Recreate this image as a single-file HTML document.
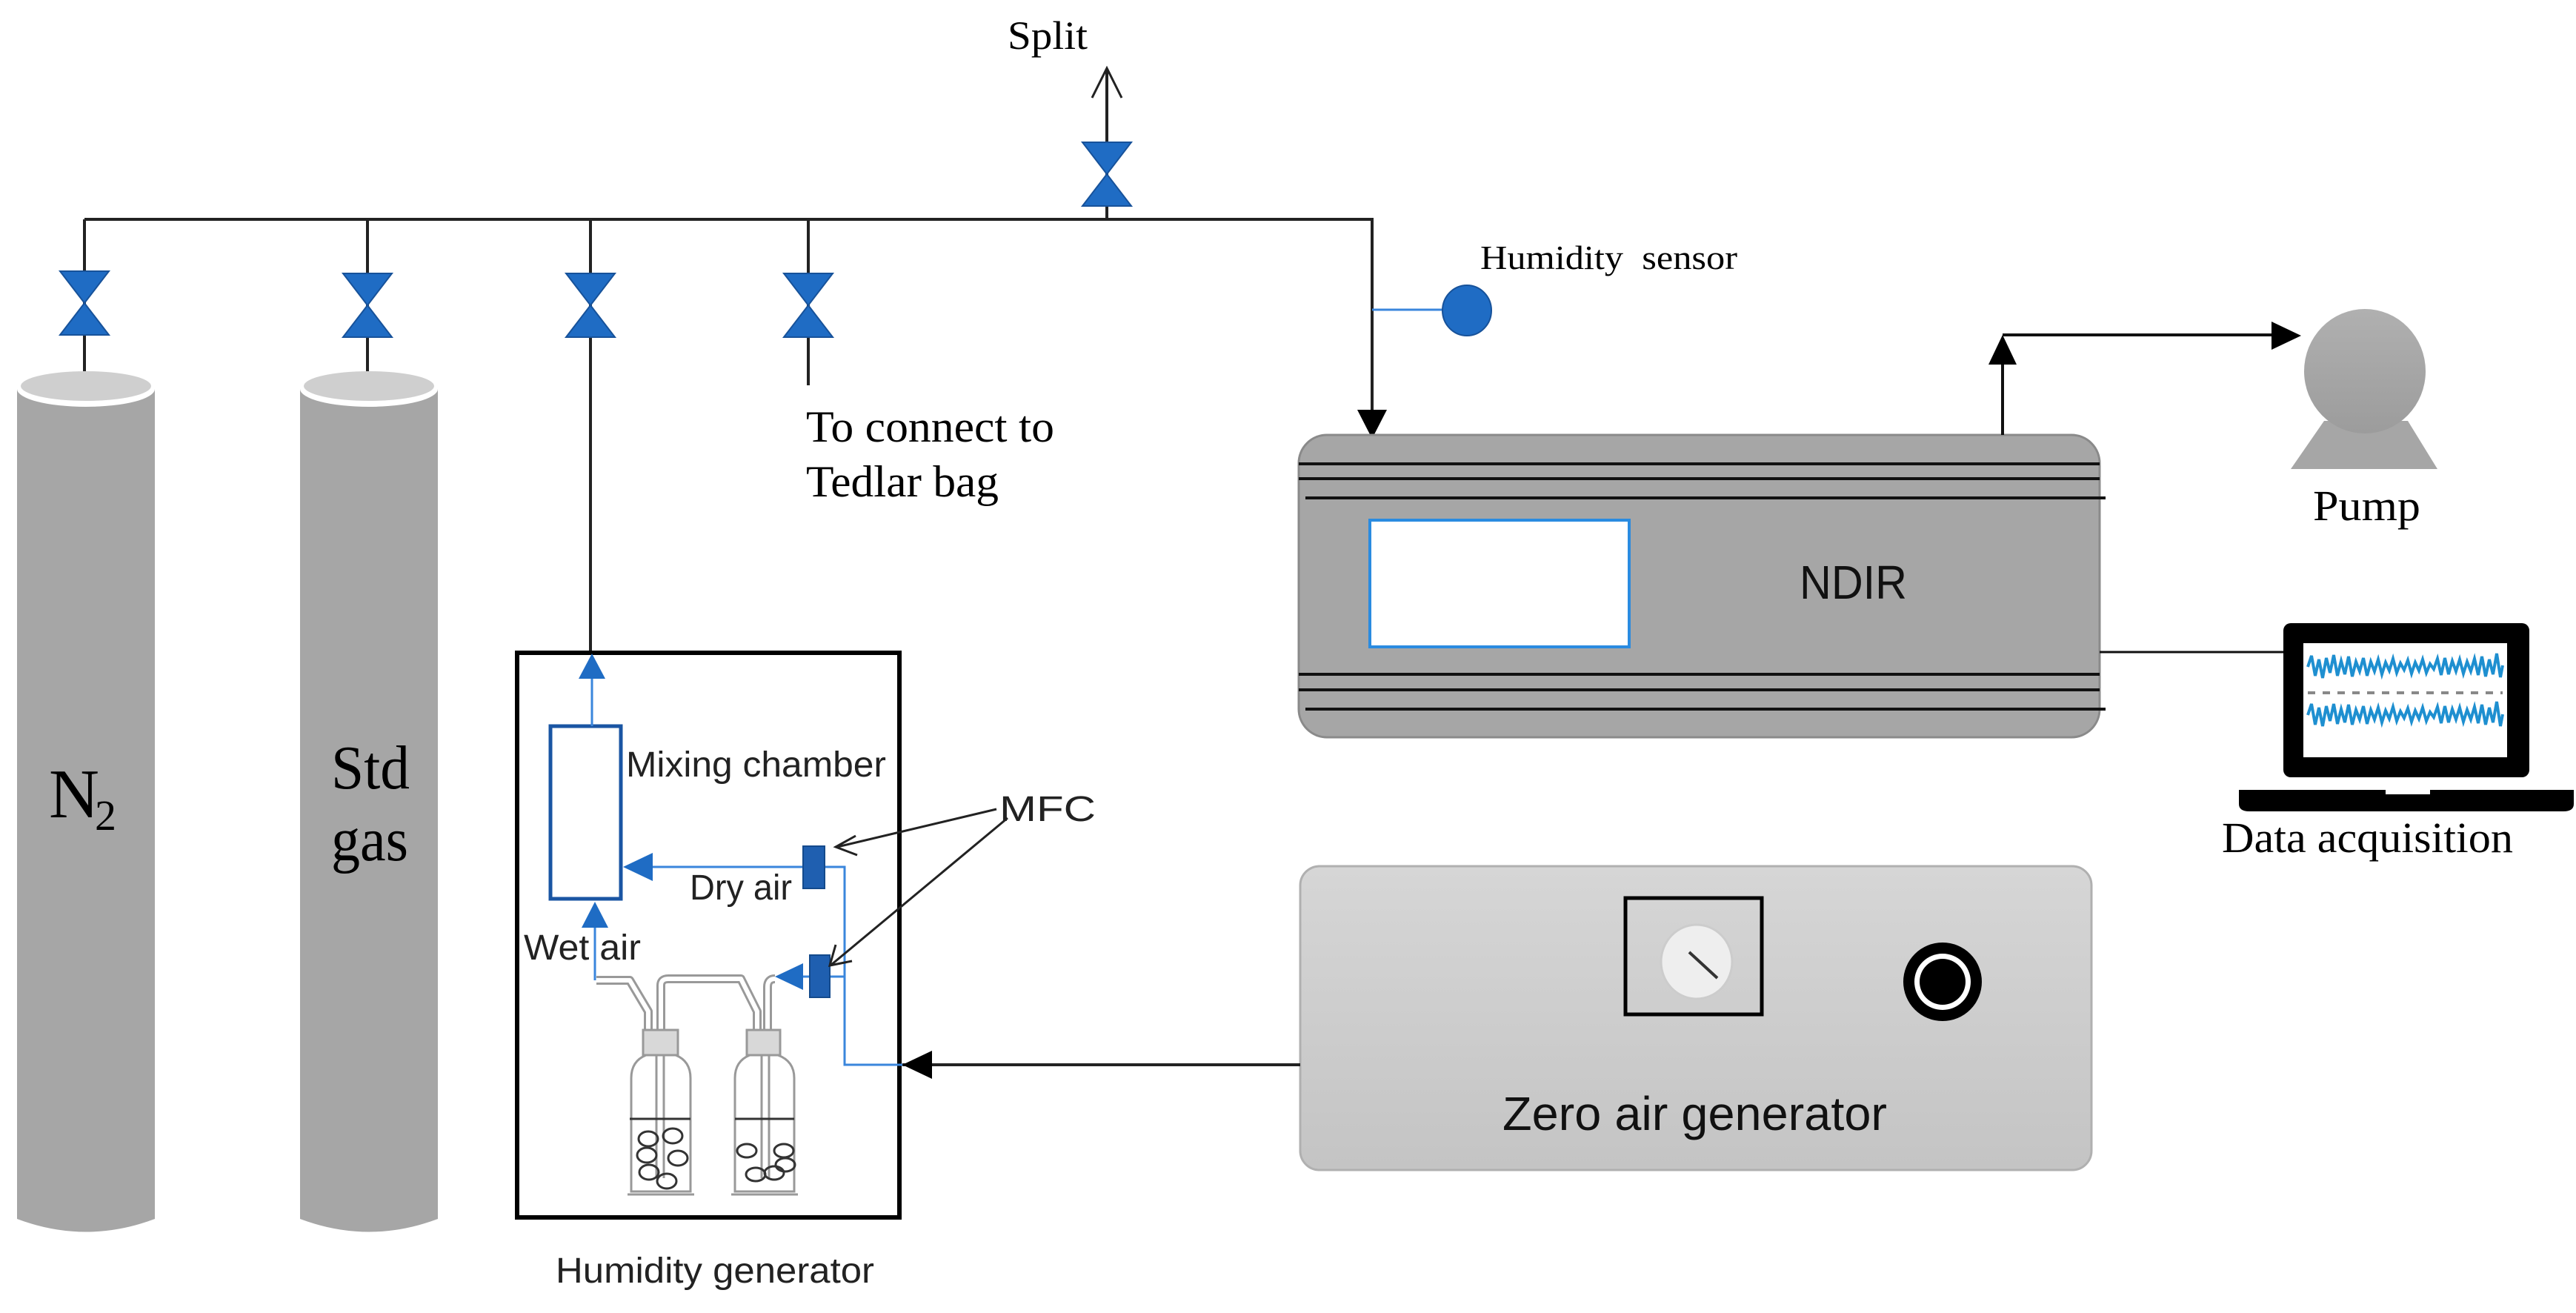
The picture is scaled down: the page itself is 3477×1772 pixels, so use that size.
<!DOCTYPE html>
<html><head><meta charset="utf-8"><style>html,body{margin:0;padding:0;background:#fff}svg{display:block}</style></head>
<body>
<svg width="3477" height="1772" viewBox="0 0 3477 1772" xmlns="http://www.w3.org/2000/svg">
<defs>
<g id="valve"><polygon points="-33,-43 33,-43 0,0" fill="#1f6cc4" stroke="#17529a" stroke-width="2"/><polygon points="-33,43 33,43 0,0" fill="#1f6cc4" stroke="#17529a" stroke-width="2"/></g>
<linearGradient id="pg" x1="0" y1="0" x2="0" y2="1"><stop offset="0" stop-color="#b0b0b0"/><stop offset="1" stop-color="#9c9c9c"/></linearGradient>
<linearGradient id="zg" x1="0" y1="0" x2="0" y2="1"><stop offset="0" stop-color="#d6d6d6"/><stop offset="1" stop-color="#c4c4c4"/></linearGradient>
</defs>

<g stroke="#222" stroke-width="4" fill="none">
<path d="M114,296 H1852 V560"/>
<line x1="114" y1="296" x2="114" y2="520"/>
<line x1="496" y1="296" x2="496" y2="520"/>
<line x1="797" y1="296" x2="797" y2="880"/>
<line x1="1091" y1="296" x2="1091" y2="520"/>
<line x1="1494" y1="296" x2="1494" y2="95"/>
<path d="M1474,132 L1494,92 L1514,132" stroke-width="3"/>
</g>
<polygon points="1832,553 1872,553 1852,592" fill="#000"/>
<use href="#valve" x="114" y="409"/>
<use href="#valve" x="496" y="412"/>
<use href="#valve" x="797" y="412"/>
<use href="#valve" x="1091" y="412"/>
<use href="#valve" x="1494" y="235"/>
<text x="1360" y="66" font-family="Liberation Serif,serif" font-size="54" textLength="108" lengthAdjust="spacingAndGlyphs">Split</text>
<text x="1088" y="596" font-family="Liberation Serif,serif" font-size="60" textLength="335" lengthAdjust="spacingAndGlyphs">To connect to</text>
<text x="1088" y="670" font-family="Liberation Serif,serif" font-size="60" textLength="260" lengthAdjust="spacingAndGlyphs">Tedlar bag</text>

<path d="M23,525 V1645 Q116,1680 209,1645 V525 Z" fill="#a6a6a6"/>
<ellipse cx="116" cy="525" rx="93" ry="24" fill="#fff"/>
<ellipse cx="116" cy="521" rx="88" ry="20" fill="#cfcfcf"/>
<path d="M405,525 V1645 Q498,1680 591,1645 V525 Z" fill="#a6a6a6"/>
<ellipse cx="498" cy="525" rx="93" ry="24" fill="#fff"/>
<ellipse cx="498" cy="521" rx="88" ry="20" fill="#cfcfcf"/>
<text x="66" y="1103" font-family="Liberation Serif,serif" font-size="94">N</text>
<text x="128" y="1120" font-family="Liberation Serif,serif" font-size="58">2</text>
<text x="447" y="1064" font-family="Liberation Serif,serif" font-size="84" textLength="106" lengthAdjust="spacingAndGlyphs">Std</text>
<text x="447" y="1161" font-family="Liberation Serif,serif" font-size="84" textLength="104" lengthAdjust="spacingAndGlyphs">gas</text>

<rect x="698" y="881" width="516" height="762" fill="none" stroke="#000" stroke-width="6"/>
<rect x="743" y="980" width="95" height="233" fill="none" stroke="#1a55a3" stroke-width="5"/>
<g stroke="#3a86dc" stroke-width="3" fill="none">
<line x1="799" y1="980" x2="799" y2="910"/>
<line x1="803" y1="1250" x2="803" y2="1323"/>
<path d="M880,1170 H1140 V1437 H1218"/>
<line x1="1084" y1="1318" x2="1140" y2="1318"/>
</g>
<polygon points="781,916 817,916 799,882" fill="#1f6cc4"/>
<polygon points="785,1252 821,1252 803,1217" fill="#1f6cc4"/>
<polygon points="881,1151 881,1189 841,1170" fill="#1f6cc4"/>
<polygon points="1084,1300 1084,1336 1046,1318" fill="#1f6cc4"/>
<rect x="1084" y="1142" width="29" height="57" fill="#1f5fb0" stroke="#144a8c" stroke-width="2"/>
<rect x="1093" y="1289" width="27" height="57" fill="#1f5fb0" stroke="#144a8c" stroke-width="2"/>
<!-- bubbler tubes -->
<g fill="none" stroke-linejoin="round">
<path id="t1" d="M805,1323 H850 L875,1365 V1395 M892,1400 V1330 Q892,1321 902,1321 H1000 L1022,1365 V1395 M1036,1400 V1332 Q1036,1321 1046,1321" stroke="#999" stroke-width="12"/>
<path d="M805,1323 H850 L875,1365 V1395 M892,1400 V1330 Q892,1321 902,1321 H1000 L1022,1365 V1395 M1036,1400 V1332 Q1036,1321 1046,1321" stroke="#fff" stroke-width="6"/>
</g>
<g stroke="#999" stroke-width="3" fill="none">
<rect x="868" y="1390" width="47" height="34" fill="#d8d8d8"/>
<rect x="1008" y="1390" width="45" height="34" fill="#d8d8d8"/>
<path d="M872,1424 Q852,1432 852,1455 V1608 H932 V1455 Q932,1432 912,1424"/>
<path d="M1012,1424 Q992,1432 992,1455 V1608 H1072 V1455 Q1072,1432 1050,1424"/>
<line x1="847" y1="1612" x2="937" y2="1612"/>
<line x1="987" y1="1612" x2="1077" y2="1612"/>
<line x1="886" y1="1424" x2="886" y2="1590"/><line x1="896" y1="1424" x2="896" y2="1590"/>
<line x1="1028" y1="1424" x2="1028" y2="1590"/><line x1="1038" y1="1424" x2="1038" y2="1590"/>
</g>
<g stroke="#333" stroke-width="3" fill="none">
<line x1="850" y1="1510" x2="932" y2="1510"/><line x1="992" y1="1510" x2="1072" y2="1510"/>
<ellipse cx="875" cy="1537" rx="13" ry="10"/><ellipse cx="908" cy="1533" rx="13" ry="10"/>
<ellipse cx="873" cy="1559" rx="13" ry="10"/><ellipse cx="915" cy="1563" rx="13" ry="10"/>
<ellipse cx="876" cy="1582" rx="13" ry="10"/><ellipse cx="900" cy="1594" rx="13" ry="10"/>
<ellipse cx="1008" cy="1553" rx="13" ry="9"/><ellipse cx="1058" cy="1553" rx="13" ry="9"/>
<ellipse cx="1060" cy="1572" rx="13" ry="9"/><ellipse cx="1020" cy="1585" rx="13" ry="9"/>
<ellipse cx="1045" cy="1583" rx="13" ry="9"/>
</g>
<text x="845" y="1048" font-family="Liberation Sans,sans-serif" font-size="48" fill="#222" textLength="351" lengthAdjust="spacingAndGlyphs">Mixing chamber</text>
<text x="931" y="1214" font-family="Liberation Sans,sans-serif" font-size="48" fill="#222" textLength="138" lengthAdjust="spacingAndGlyphs">Dry air</text>
<text x="707" y="1295" font-family="Liberation Sans,sans-serif" font-size="48" fill="#222" textLength="158" lengthAdjust="spacingAndGlyphs">Wet air</text>
<text x="750" y="1731" font-family="Liberation Sans,sans-serif" font-size="48" fill="#222" textLength="430" lengthAdjust="spacingAndGlyphs">Humidity generator</text>
<text x="1349" y="1108" font-family="Liberation Sans,sans-serif" font-size="48" fill="#222" textLength="130" lengthAdjust="spacingAndGlyphs">MFC</text>
<g stroke="#222" stroke-width="3" fill="none">
<line x1="1345" y1="1092" x2="1130" y2="1143"/>
<path d="M1155,1128 L1128,1143 L1157,1154"/>
<line x1="1360" y1="1104" x2="1122" y2="1302"/>
<path d="M1128,1275 L1120,1303 L1150,1297"/>
</g>

<rect x="1755" y="1169" width="1068" height="410" rx="26" fill="url(#zg)" stroke="#b0b0b0" stroke-width="3"/>
<line x1="1218" y1="1437" x2="1755" y2="1437" stroke="#222" stroke-width="4"/>
<polygon points="1218,1437 1258,1418 1258,1456" fill="#000"/>
<rect x="2194" y="1212" width="184" height="157" fill="none" stroke="#000" stroke-width="5"/>
<ellipse cx="2290" cy="1298" rx="48" ry="50" fill="#eee" stroke="#ccc" stroke-width="3"/>
<line x1="2280" y1="1285" x2="2318" y2="1320" stroke="#333" stroke-width="4"/>
<circle cx="2622" cy="1325" r="53" fill="#000"/>
<circle cx="2622" cy="1325" r="38" fill="#fff"/>
<circle cx="2622" cy="1325" r="31" fill="#000"/>
<text x="2028" y="1525" font-family="Liberation Sans,sans-serif" font-size="64" fill="#111" textLength="519" lengthAdjust="spacingAndGlyphs">Zero air generator</text>

<rect x="1753" y="587" width="1081" height="408" rx="38" fill="#a6a6a6" stroke="#8a8a8a" stroke-width="3"/>
<g stroke="#111" stroke-width="4">
<line x1="1753" y1="626" x2="2834" y2="626"/><line x1="1753" y1="646" x2="2834" y2="646"/><line x1="1762" y1="672" x2="2842" y2="672"/>
<line x1="1753" y1="910" x2="2834" y2="910"/><line x1="1753" y1="931" x2="2834" y2="931"/><line x1="1762" y1="957" x2="2842" y2="957"/>
</g>
<rect x="1849" y="702" width="350" height="171" fill="#fff" stroke="#2a8be0" stroke-width="4"/>
<text x="2429" y="808" font-family="Liberation Sans,sans-serif" font-size="64" fill="#111" textLength="145" lengthAdjust="spacingAndGlyphs">NDIR</text>
<line x1="1852" y1="418" x2="1948" y2="418" stroke="#3a86dc" stroke-width="3"/>
<ellipse cx="1980" cy="419" rx="33" ry="34" fill="#1f6cc4" stroke="#17529a" stroke-width="2"/>
<text x="1998" y="363" font-family="Liberation Serif,serif" font-size="46" xml:space="preserve" textLength="347" lengthAdjust="spacingAndGlyphs">Humidity  sensor</text>
<path d="M2703,587 V470 M2703,452 H3080" stroke="#111" stroke-width="4" fill="none"/>
<polygon points="2703,452 2684,492 2722,492" fill="#000"/>
<polygon points="3106,453 3066,434 3066,472" fill="#000"/>
<path d="M3137,568 L3092,633 H3290 L3250,568 Z" fill="#a6a6a6"/>
<ellipse cx="3192" cy="501" rx="82" ry="84" fill="url(#pg)"/>
<text x="3122" y="702" font-family="Liberation Serif,serif" font-size="58" textLength="145" lengthAdjust="spacingAndGlyphs">Pump</text>
<line x1="2834" y1="880" x2="3082" y2="880" stroke="#111" stroke-width="3"/>
<rect x="3082" y="841" width="332" height="208" rx="10" fill="#000"/>
<rect x="3109" y="868" width="275" height="154" fill="#fff"/>
<path d="M3022,1066 H3474 V1085 Q3474,1095 3460,1095 H3036 Q3022,1095 3022,1085 Z" fill="#000"/>
<rect x="3220" y="1066" width="60" height="6" fill="#fff"/>
<g stroke="#1e8fd0" stroke-width="4" fill="none">
<polyline points="3115,900 3120,885 3125,912 3130,890 3135,915 3140,888 3145,908 3150,884 3155,912 3160,892 3165,910 3170,886 3175,913 3180,893 3185,906 3190,888 3195,912 3200,893 3205,906 3210,890 3215,910 3220,894 3225,905 3230,889 3235,908 3240,895 3245,904 3250,891 3255,909 3260,894 3265,905 3270,890 3275,908 3280,896 3285,903 3290,889 3295,911 3300,888 3305,910 3310,892 3315,906 3320,890 3325,909 3330,893 3335,906 3340,889 3345,911 3350,886 3355,913 3360,890 3365,910 3370,882 3375,914 3378,898"/>
<polyline points="3115,965 3120,950 3125,978 3130,955 3135,980 3140,953 3145,973 3150,950 3155,977 3160,957 3165,975 3170,951 3175,978 3180,958 3185,971 3190,953 3195,977 3200,958 3205,971 3210,955 3215,975 3220,959 3225,970 3230,954 3235,973 3240,960 3245,969 3250,956 3255,974 3260,959 3265,970 3270,955 3275,973 3280,961 3285,968 3290,954 3295,976 3300,953 3305,975 3310,957 3315,971 3320,955 3325,974 3330,958 3335,971 3340,954 3345,976 3350,951 3355,978 3360,955 3365,975 3370,947 3375,980 3378,964"/>
</g>
<line x1="3115" y1="935" x2="3378" y2="935" stroke="#888" stroke-width="4" stroke-dasharray="10,10"/>
<text x="2999" y="1150" font-family="Liberation Serif,serif" font-size="58" textLength="393" lengthAdjust="spacingAndGlyphs">Data acquisition</text>
</svg>
</body></html>
